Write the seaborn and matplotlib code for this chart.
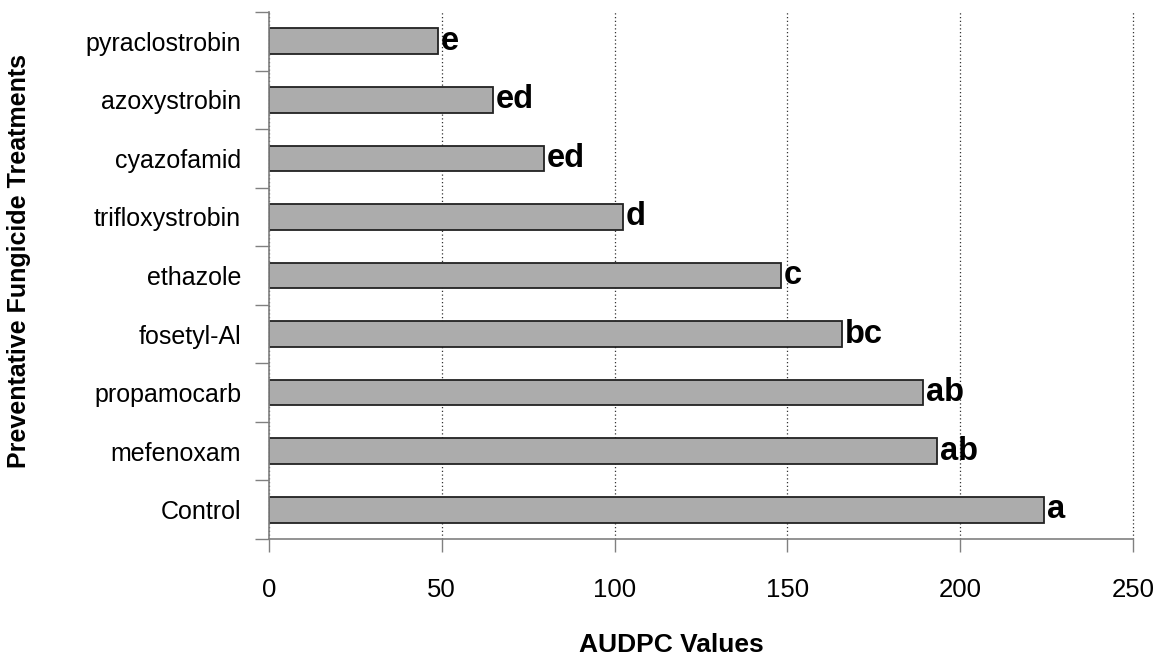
import matplotlib
matplotlib.use("Agg")
import matplotlib.pyplot as plt
import seaborn as sns
import pandas as pd
from matplotlib.ticker import FixedLocator

# AUDPC per preventative fungicide treatment, with mean-separation letters
treatments = ["pyraclostrobin", "azoxystrobin", "cyazofamid", "trifloxystrobin",
              "ethazole", "fosetyl-Al", "propamocarb", "mefenoxam", "Control"]
audpc = [48.9, 64.8, 79.6, 102.4, 148.1, 165.8, 189.2, 193.3, 224.2]
letters = ["e", "ed", "ed", "d", "c", "bc", "ab", "ab", "a"]
x_ticks = [0, 50, 100, 150, 200, 250]

sns.set_theme(style="white")
plt.rcParams["font.family"] = ["Liberation Sans", "DejaVu Sans"]

df = pd.DataFrame({"Treatment": treatments, "AUDPC": audpc})

fig = plt.figure(figsize=(11.65, 6.56), dpi=100)
ax = fig.add_axes([0.2309, 0.1784, 0.7416, 0.8032])

sns.barplot(data=df, x="AUDPC", y="Treatment", orient="h", order=treatments,
            width=0.44, color="#acacac", saturation=1, edgecolor="#222222",
            linewidth=1.3, ax=ax)

for i, (v, lab) in enumerate(zip(audpc, letters)):
    ax.text(v + 0.8, i, lab, va="center", ha="left", fontsize=23.5,
            fontweight="bold", color="black")

ax.set_xlim(0, 250)
ax.set_ylim(len(treatments) - 0.5, -0.5)
ax.set_xticks(x_ticks)
ax.set_xticklabels([str(t) for t in x_ticks])

ax.set_axisbelow(True)
ax.xaxis.grid(True, linestyle=(0, (1, 2)), color="#333333", linewidth=0.9)
ax.yaxis.grid(False)
for gl in ax.get_xgridlines():
    gl.set_clip_on(False)

for side in ["top", "right"]:
    ax.spines[side].set_visible(False)
for side in ["left", "bottom"]:
    ax.spines[side].set_color("#808080")
    ax.spines[side].set_linewidth(1.2)

ax.yaxis.set_minor_locator(FixedLocator([i - 0.5 for i in range(len(treatments) + 1)]))
ax.tick_params(axis="y", which="major", length=0, pad=20, labelsize=18,
               labelcolor="black")
ax.tick_params(axis="y", which="minor", length=10, width=1.0, color="#808080",
               direction="out", left=True)
ax.tick_params(axis="x", which="major", length=9, width=1.0, color="#808080",
               direction="out", bottom=True, pad=19, labelsize=18.5,
               labelcolor="black")

ax.set_xlabel("AUDPC Values", fontsize=19, fontweight="bold", color="black")
ax.xaxis.set_label_coords(0.466, -0.178)
ax.set_ylabel("Preventative Fungicide Treatments", fontsize=18,
              fontweight="bold", color="black")
ax.yaxis.set_label_coords(-0.275, 0.527)

fig.savefig("out.png", dpi=100)
